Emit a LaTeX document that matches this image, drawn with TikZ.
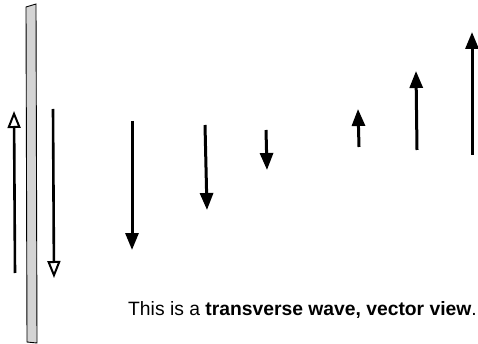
\documentclass[tikz,border=0pt]{standalone}
\usepackage{fontspec}
\setmainfont{Liberation Sans}
\usetikzlibrary{arrows.meta}
\tikzset{
  solidvec/.style={line width=3pt, -{Triangle[width=13pt,length=17pt]}},
  openvec/.style={line width=2.6pt, -{Triangle[open,width=13pt,length=17pt,line width=2pt]}},
  barstyle/.style={draw=black, line width=0.9pt, fill=black!17}
}
\begin{document}
\begin{tikzpicture}[x=1pt,y=-1pt]
\useasboundingbox (0,0) rectangle (478,344);
% bar
\draw[barstyle] (26,7) -- (36,4) -- (37,343) -- (27,342) -- cycle;
% coordinates
\coordinate (a1s) at (15,273); \coordinate (a1e) at (14,111);
\coordinate (a2s) at (53,109); \coordinate (a2e) at (54,278);
\coordinate (b1s) at (132,121); \coordinate (b1e) at (132,250);
\coordinate (b2s) at (205,125); \coordinate (b2e) at (207,210);
\coordinate (b3s) at (266,130); \coordinate (b3e) at (267,170);
\coordinate (b4s) at (359,147); \coordinate (b4e) at (358,109);
\coordinate (b5s) at (417,150); \coordinate (b5e) at (416,71);
\coordinate (b6s) at (472,155); \coordinate (b6e) at (472,32);
% open arrows
\draw[openvec] (a1s) -- (a1e);
\draw[openvec] (a2s) -- (a2e);
% solid arrows
\draw[solidvec] (b1s) -- (b1e);
\draw[solidvec] (b2s) -- (b2e);
\draw[solidvec] (b3s) -- (b3e);
\draw[solidvec] (b4s) -- (b4e);
\draw[solidvec] (b5s) -- (b5e);
\draw[solidvec] (b6s) -- (b6e);
% caption
\node[anchor=base west, inner sep=0pt, font=\fontsize{19.3}{22}\selectfont] (cap) at (128,315) {This is a \textbf{transverse wave, vector view}.};
\end{tikzpicture}
\end{document}
